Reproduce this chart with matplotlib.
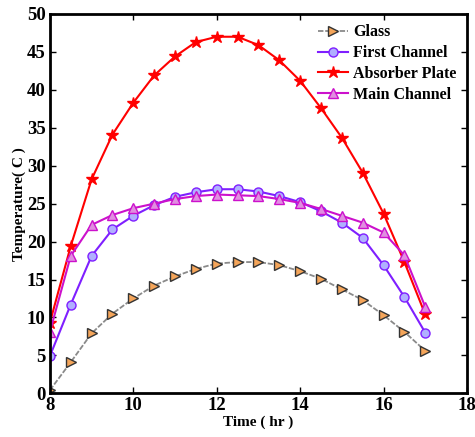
import matplotlib.pyplot as plt

# dane
czas = [8, 8.5, 9, 9.5, 10, 10.5, 11, 11.5, 12, 12.5, 13, 13.5, 14, 14.5, 15, 15.5, 16, 16.5, 17]

glass = [0.4, 4.1, 7.9, 10.5, 12.5, 14.2, 15.4, 16.4, 17.1, 17.3, 17.3, 16.9, 16.1, 15.1, 13.7, 12.3, 10.3, 8.1, 5.6]
first_channel = [4.9, 11.7, 18.1, 21.6, 23.4, 24.8, 25.9, 26.5, 26.9, 26.9, 26.6, 26.0, 25.2, 24.0, 22.5, 20.5, 16.9, 12.7, 8.0]
absorber = [9.3, 19.4, 28.2, 34.1, 38.3, 41.9, 44.4, 46.3, 47.0, 47.0, 45.9, 43.9, 41.2, 37.6, 33.7, 29.1, 23.7, 17.3, 10.4]
main_channel = [8.1, 18.1, 22.2, 23.5, 24.4, 25.0, 25.6, 26.0, 26.2, 26.1, 26.0, 25.6, 25.1, 24.3, 23.4, 22.5, 21.2, 18.2, 11.4]

plt.rcParams['font.family'] = ['Liberation Serif', 'DejaVu Serif']
plt.rcParams['font.weight'] = 'bold'

fig = plt.figure(figsize=(4.75, 4.37), dpi=100)
ax = fig.add_axes([0.105, 0.1, 0.878, 0.868])

ax.plot(czas, glass, color="#8a8a8a", linestyle=(0, (3, 1)), linewidth=1.3, marker=">",
        markersize=6.5, markerfacecolor="#f4a55a", markeredgecolor="#333333", label="Glass")
ax.plot(czas, first_channel, color="#7f1fff", linewidth=1.5, marker="o",
        markersize=6.5, markerfacecolor="#b0b0ff", markeredgecolor="#7f1fff", label="First Channel")
ax.plot(czas, absorber, color="red", linewidth=1.5, marker="*",
        markersize=9, markerfacecolor="red", markeredgecolor="red", label="Absorber Plate")
ax.plot(czas, main_channel, color="#cc11cc", linewidth=1.5, marker="^",
        markersize=7, markerfacecolor="#e08ee0", markeredgecolor="#cc11cc", label="Main Channel")

ax.set_xlim(8, 18)
ax.set_ylim(0, 50)
ax.set_xticks([8, 10, 12, 14, 16, 18])
ax.set_yticks(range(0, 51, 5))
ax.tick_params(direction="in", top=True, right=True, labelsize=13.5, width=1, length=4, pad=3)
for s in ax.spines.values():
    s.set_linewidth(2)

ax.set_xlabel("Time ( hr )", fontsize=11, fontweight="bold", labelpad=1)
ax.set_ylabel("Temperature( C )", fontsize=11, fontweight="bold", labelpad=1)

ax.legend(loc="upper right", frameon=False, fontsize=11.5, handlelength=1.9,
          handletextpad=0.3, labelspacing=0.3, borderaxespad=0.25)

fig.savefig("out.png", dpi=100)
